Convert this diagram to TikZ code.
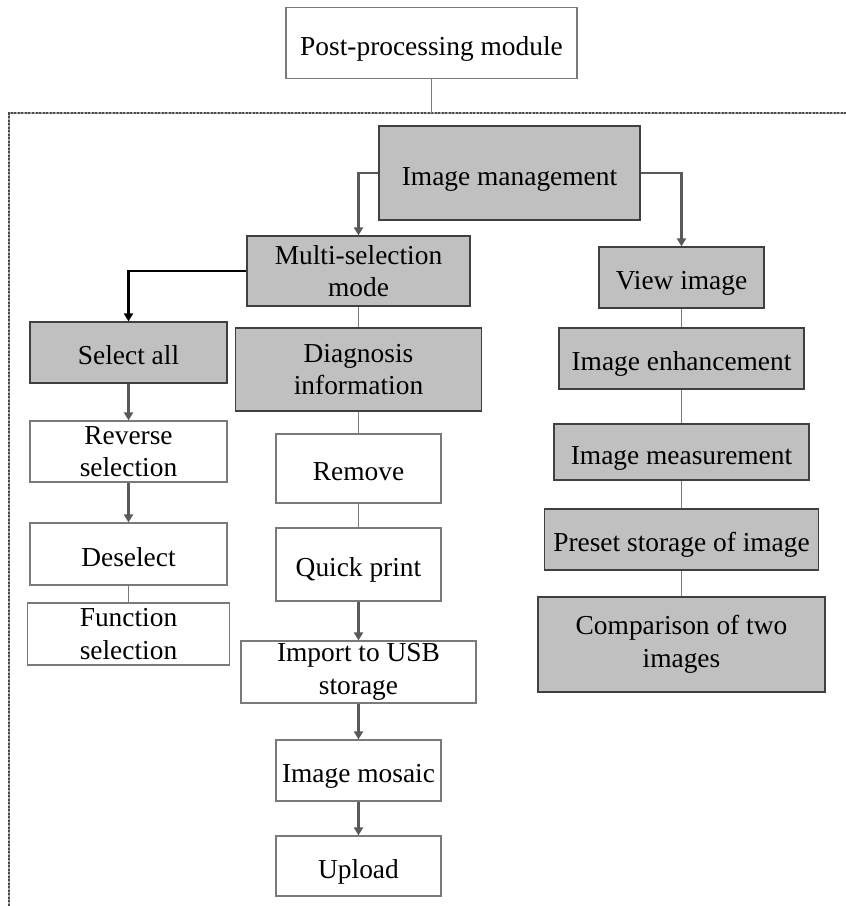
\documentclass[tikz,border=0pt]{standalone}
\usepackage{fontspec}
\setmainfont{Liberation Serif}
\usetikzlibrary{arrows.meta}
\definecolor{boxgray}{HTML}{C0C0C0}
\definecolor{edgedark}{HTML}{404040}
\definecolor{edgelight}{HTML}{7A7A7A}
\definecolor{linkgray}{HTML}{595959}
\definecolor{framegray}{HTML}{4A4A4A}
\definecolor{framelight}{HTML}{A8A8A8}
\begin{document}
\begin{tikzpicture}[x=1pt,y=-1pt,
  font=\fontsize{27.4}{32.5}\selectfont,
  base/.style={rectangle, inner sep=0pt, align=center, text=black},
  oneline/.style={text height=24pt, text depth=0pt},
  graybox/.style={base, fill=boxgray, draw=edgedark, line width=1.2pt},
  whitebox/.style={base, fill=white, draw=edgelight, line width=1.2pt},
  link/.style={draw=edgelight, line width=1.4pt},
  arr/.style={draw=linkgray, line width=2.2pt, -{Triangle[width=9pt,length=8pt]}},
  darkarr/.style={draw=black, line width=2.2pt, -{Triangle[width=9pt,length=8pt]}},
  framebase/.style={draw=framelight, line width=2.6pt},
  frame/.style={draw=framegray, line width=2.6pt, dash pattern=on 2pt off 1.5pt}]
\useasboundingbox (0,0) rectangle (846,906);

% outer module box
\node[whitebox, oneline, minimum width=291pt, minimum height=71pt] (post) at (431.5,43) {Post-processing module};

% dotted frame around the sub-modules (open to the right and bottom)
\coordinate (ftop) at (431.5,113);
\coordinate (fcorner) at (9,113);
\coordinate (fright) at (846,113);
\coordinate (fbottom) at (9,906);
\draw[framebase] (fright) -- (fcorner) -- (fbottom);
\draw[frame] (fright) -- (fcorner) -- (fbottom);
\draw[link] (post.south) -- (ftop);

% top level
\node[graybox, oneline, minimum width=261pt, minimum height=94pt] (mgmt) at (509.5,173) {Image management};
\node[graybox, minimum width=223pt, minimum height=70pt] (multi) at (358.5,271) {Multi-selection\\mode};
\node[graybox, oneline, minimum width=165pt, minimum height=61pt] (view) at (681.5,277.5) {View image};

% left column
\node[graybox, oneline, minimum width=197pt, minimum height=61pt] (selall) at (128.5,352.5) {Select all};
\node[whitebox, minimum width=197pt, minimum height=61pt] (rev) at (128.5,451.5) {Reverse\\selection};
\node[whitebox, oneline, minimum width=197pt, minimum height=62pt] (desel) at (128.5,554) {Deselect};
\node[whitebox, minimum width=202pt, minimum height=62pt] (func) at (128.5,634) {Function\\selection};

% middle column
\node[graybox, minimum width=246pt, minimum height=83pt] (diag) at (358.5,369.5) {Diagnosis\\information};
\node[whitebox, oneline, minimum width=165pt, minimum height=69pt] (remove) at (358.5,468.5) {Remove};
\node[whitebox, oneline, minimum width=165pt, minimum height=73pt] (quick) at (358.5,564.5) {Quick print};
\node[whitebox, minimum width=235pt, minimum height=62pt] (usb) at (358.5,672) {Import to USB\\storage};
\node[whitebox, oneline, minimum width=165pt, minimum height=61pt] (mosaic) at (358.5,770.5) {Image mosaic};
\node[whitebox, oneline, minimum width=165pt, minimum height=60pt] (upload) at (358.5,866) {Upload};

% right column
\node[graybox, oneline, minimum width=245pt, minimum height=61pt] (enh) at (681.5,358.5) {Image enhancement};
\node[graybox, oneline, minimum width=255pt, minimum height=56pt] (meas) at (681.5,452) {Image measurement};
\node[graybox, oneline, minimum width=274pt, minimum height=61pt] (preset) at (681.5,539.5) {Preset storage of image};
\node[graybox, minimum width=287pt, minimum height=95pt] (comp) at (681.5,644.5) {Comparison of two\\images};

% connectors
\draw[arr] (mgmt.west) -| (multi.north);
\draw[arr] (mgmt.east) -| (view.north);
\draw[darkarr] (multi.west) -| (selall.north);

\draw[arr] (selall) -- (rev);
\draw[arr] (rev) -- (desel);
\draw[link] (desel) -- (func);

\draw[link] (multi) -- (diag);
\draw[link] (diag) -- (remove);
\draw[link] (remove) -- (quick);
\draw[arr] (quick) -- (usb);
\draw[arr] (usb) -- (mosaic);
\draw[arr] (mosaic) -- (upload);

\draw[link] (view) -- (enh);
\draw[link] (enh) -- (meas);
\draw[link] (meas) -- (preset);
\draw[link] (preset) -- (comp);
\end{tikzpicture}
\end{document}
